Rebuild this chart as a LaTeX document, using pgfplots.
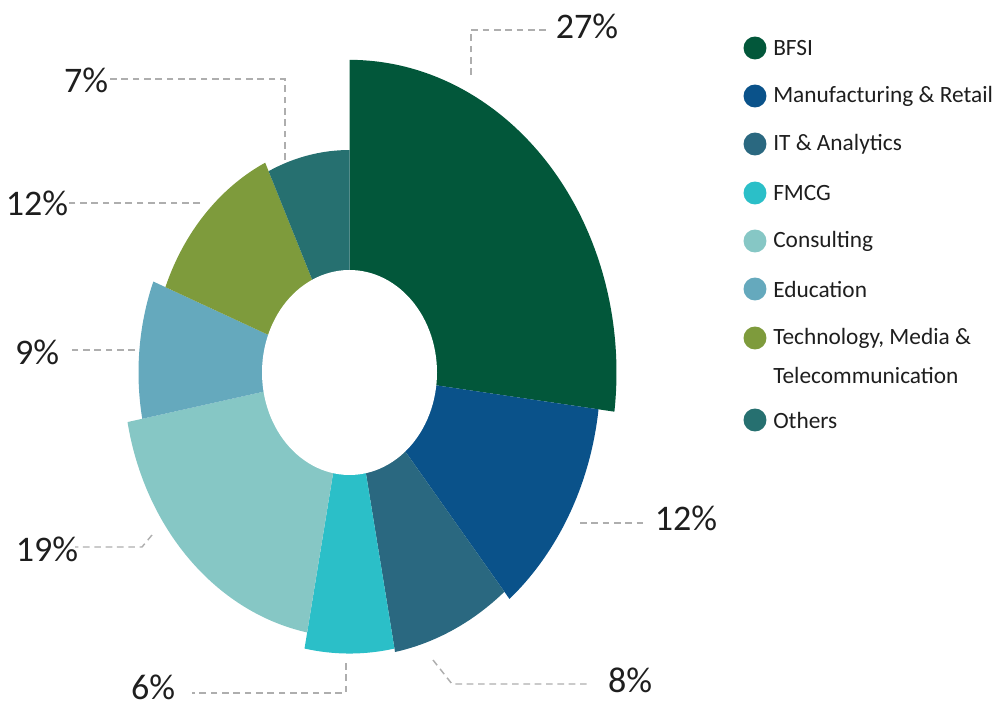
\documentclass[border=0pt]{standalone}
\usepackage{pgfplots}
\pgfplotsset{compat=1.18}
\usepackage{fontspec}
\setmainfont{Carlito}
\definecolor{cBFSI}{HTML}{02573A}
\definecolor{cMan}{HTML}{0A528A}
\definecolor{cIT}{HTML}{2A6880}
\definecolor{cFMCG}{HTML}{2BBFC8}
\definecolor{cCons}{HTML}{86C7C5}
\definecolor{cEdu}{HTML}{65A9BD}
\definecolor{cTMT}{HTML}{7E9B3C}
\definecolor{cOth}{HTML}{267070}
\definecolor{cLead}{HTML}{AEAEAE}
\definecolor{cTxt}{HTML}{1E1E1E}
\begin{document}
\begin{tikzpicture}
\begin{axis}[hide axis, scale only axis, width=751.5pt, height=532.5pt,
  xmin=0, xmax=1002, ymin=0, ymax=710, clip=false]
\path (axis cs:0,0) rectangle (axis cs:1002,710);
% sectors: start angle, end angle, radius (px); centre (349.5,337.5), vertical stretch 1.171
\addplot[fill=cBFSI, draw=none, domain=-7.2:90, samples=90, variable=\t]
  ({349.5+267*cos(\t)},{337.5+1.171*267*sin(\t)}) -- (axis cs:349.5,337.5) -- cycle;
\addplot[fill=cMan, draw=none, domain=-50.4:-7.2, samples=50, variable=\t]
  ({349.5+251*cos(\t)},{337.5+1.171*251*sin(\t)}) -- (axis cs:349.5,337.5) -- cycle;
\addplot[fill=cIT, draw=none, domain=-79.2:-50.4, samples=40, variable=\t]
  ({349.5+243*cos(\t)},{337.5+1.171*243*sin(\t)}) -- (axis cs:349.5,337.5) -- cycle;
\addplot[fill=cFMCG, draw=none, domain=-100.8:-79.2, samples=30, variable=\t]
  ({349.5+240*cos(\t)},{337.5+1.171*240*sin(\t)}) -- (axis cs:349.5,337.5) -- cycle;
\addplot[fill=cCons, draw=none, domain=-169.2:-100.8, samples=70, variable=\t]
  ({349.5+226*cos(\t)},{337.5+1.171*226*sin(\t)}) -- (axis cs:349.5,337.5) -- cycle;
\addplot[fill=cEdu, draw=none, domain=-201.6:-169.2, samples=40, variable=\t]
  ({349.5+211*cos(\t)},{337.5+1.171*211*sin(\t)}) -- (axis cs:349.5,337.5) -- cycle;
\addplot[fill=cTMT, draw=none, domain=-244.8:-201.6, samples=50, variable=\t]
  ({349.5+198*cos(\t)},{337.5+1.171*198*sin(\t)}) -- (axis cs:349.5,337.5) -- cycle;
\addplot[fill=cOth, draw=none, domain=-270:-244.8, samples=30, variable=\t]
  ({349.5+190*cos(\t)},{337.5+1.171*190*sin(\t)}) -- (axis cs:349.5,337.5) -- cycle;
% hole
\addplot[fill=white, draw=none, domain=0:360, samples=120, variable=\t]
  ({349.5+87.5*cos(\t)},{337.5+102.5*sin(\t)}) -- cycle;
% leader lines
\begin{scope}[draw=cLead, line width=1.1pt, dash pattern=on 5pt off 3.5pt]
\draw (axis cs:471,635) -- (axis cs:471,680) -- (axis cs:547,680);
\draw (axis cs:433,50) -- (axis cs:452,26) -- (axis cs:587,26);
\draw (axis cs:346,47) -- (axis cs:346,17) -- (axis cs:192,17);
\draw (axis cs:580,187) -- (axis cs:643,187);
\draw (axis cs:152,175) -- (axis cs:142,163) -- (axis cs:75,163);
\draw (axis cs:135,360) -- (axis cs:70,360);
\draw (axis cs:200,507) -- (axis cs:65,507);
\draw (axis cs:285,550) -- (axis cs:285,631) -- (axis cs:108,631);
\end{scope}
% percentage labels
\begin{scope}[every node/.style={font=\fontsize{27}{30}\selectfont, text=cTxt, inner sep=0pt}]
\node at (axis cs:587,684) {27\%};
\node at (axis cs:630,30) {8\%};
\node at (axis cs:153,23) {6\%};
\node at (axis cs:686,192) {12\%};
\node at (axis cs:47,161) {19\%};
\node at (axis cs:37,358) {9\%};
\node at (axis cs:37,507) {12\%};
\node at (axis cs:86,630) {7\%};
\end{scope}
% legend
\begin{scope}[every node/.style={font=\fontsize{17.5}{21}\selectfont, text=cTxt, anchor=west, inner sep=0pt}]
\fill[cBFSI] (axis cs:755,662) circle[radius=8.6pt];
\node at (axis cs:773,662) {BFSI};
\fill[cMan] (axis cs:755,614) circle[radius=8.6pt];
\node at (axis cs:773,614) {Manufacturing \& Retail};
\fill[cIT] (axis cs:755,566) circle[radius=8.6pt];
\node at (axis cs:773,566) {IT \& Analytics};
\fill[cFMCG] (axis cs:755,517) circle[radius=8.6pt];
\node at (axis cs:773,517) {FMCG};
\fill[cCons] (axis cs:755,469) circle[radius=8.6pt];
\node at (axis cs:773,469) {Consulting};
\fill[cEdu] (axis cs:755,421) circle[radius=8.6pt];
\node at (axis cs:773,421) {Education};
\fill[cTMT] (axis cs:755,372) circle[radius=8.6pt];
\node at (axis cs:773,372) {Technology, Media \&};
\node at (axis cs:773,335) {Telecommunication};
\fill[cOth] (axis cs:755,290) circle[radius=8.6pt];
\node at (axis cs:773,290) {Others};
\end{scope}
\end{axis}
\end{tikzpicture}
\end{document}
